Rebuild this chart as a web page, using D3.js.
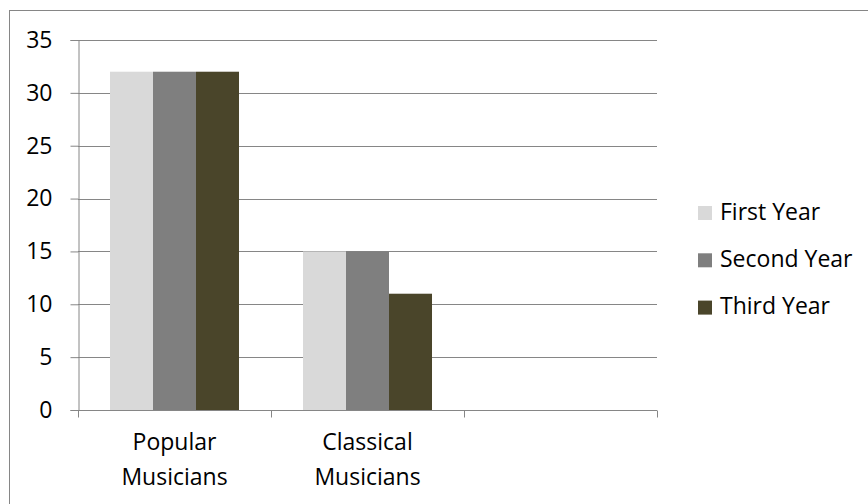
<!DOCTYPE html>
<html>
<head>
<meta charset="utf-8">
<script src="https://cdn.jsdelivr.net/npm/d3@7"></script>
<style>
  html, body { margin: 0; padding: 0; background: #fff; }
  svg { display: block; }
  text { font-family: "Open Sans", Lato, sans-serif; fill: #000; }
</style>
</head>
<body>
<svg id="chart" width="868" height="504"></svg>
<script>
// Musicians by year of study
const categories = ["Popular Musicians", "Classical Musicians", ""];
const seriesNames = ["First Year", "Second Year", "Third Year"];
const firstYear = [32, 15, null];
const secondYear = [32, 15, null];
const thirdYear = [32, 11, null];
const yTicks = [0, 5, 10, 15, 20, 25, 30, 35];
const seriesColors = ["#d9d9d9", "#7f7f7f", "#4a452a"];

const seriesValues = [firstYear, secondYear, thirdYear];

const svg = d3.select("#chart");
const W = 868, H = 504;
const plot = { left: 78, right: 657, top: 40, bottom: 410 };
const lineColor = "#868686";
const fontSize = 23;
const fontFamily = "'Open Sans', Lato, sans-serif";

// outer chart frame (extends past the right and bottom edges)
svg.append("rect")
  .attr("x", 9.5).attr("y", 10.5)
  .attr("width", W + 20).attr("height", H + 20)
  .attr("fill", "#fff")
  .attr("stroke", lineColor).attr("stroke-width", 1);

const x0 = d3.scaleBand()
  .domain(categories)
  .range([plot.left, plot.right])
  .paddingInner(0).paddingOuter(0);

const x1 = d3.scaleBand()
  .domain(seriesNames)
  .range([0, x0.bandwidth()])
  .paddingInner(0).paddingOuter(0.744);

const y = d3.scaleLinear()
  .domain([0, 35])
  .range([plot.bottom, plot.top]);

const crisp = v => Math.round(v) + 0.5;

// horizontal gridlines
svg.append("g")
  .selectAll("line")
  .data(yTicks.filter(t => t > 0))
  .join("line")
  .attr("x1", plot.left).attr("x2", plot.right)
  .attr("y1", d => crisp(y(d))).attr("y2", d => crisp(y(d)))
  .attr("stroke", lineColor).attr("stroke-width", 1);

// bars
const rows = categories.map((c, i) => ({
  category: c,
  values: seriesNames.map((s, j) => ({ series: s, value: seriesValues[j][i], color: seriesColors[j] }))
}));

svg.append("g")
  .selectAll("g")
  .data(rows)
  .join("g")
  .attr("transform", d => `translate(${x0(d.category)},0)`)
  .selectAll("rect")
  .data(d => d.values.filter(v => v.value != null))
  .join("rect")
  .attr("x", d => x1(d.series))
  .attr("width", x1.bandwidth())
  .attr("y", d => y(d.value))
  .attr("height", d => y(0) - y(d.value))
  .attr("fill", d => d.color);

// value axis
const yAxis = d3.axisLeft(y)
  .tickValues(yTicks)
  .tickSize(8)
  .tickPadding(18)
  .tickFormat(d3.format("d"));

const gy = svg.append("g")
  .attr("transform", `translate(${plot.left + 0.5},0)`)
  .call(yAxis);
gy.select(".domain").attr("stroke", lineColor);
gy.selectAll(".tick line").attr("stroke", lineColor);
gy.selectAll(".tick text")
  .attr("font-size", fontSize)
  .attr("font-family", fontFamily)
  .attr("fill", "#000");

// category axis
const catTicks = categories.map(c => x0(c)).concat([plot.right]);
const gx = svg.append("g");
gx.append("line")
  .attr("x1", plot.left).attr("x2", plot.right)
  .attr("y1", crisp(plot.bottom)).attr("y2", crisp(plot.bottom))
  .attr("stroke", lineColor);
gx.selectAll("line.tick")
  .data(catTicks)
  .join("line")
  .attr("class", "tick")
  .attr("x1", d => crisp(d)).attr("x2", d => crisp(d))
  .attr("y1", crisp(plot.bottom)).attr("y2", crisp(plot.bottom) + 7)
  .attr("stroke", lineColor);

gx.selectAll("text.cat")
  .data(categories.filter(c => c))
  .join("text")
  .attr("class", "cat")
  .attr("text-anchor", "middle")
  .attr("font-size", fontSize)
  .attr("x", d => x0(d) + x0.bandwidth() / 2)
  .attr("y", 450)
  .selectAll("tspan")
  .data(d => d.split(" "))
  .join("tspan")
  .attr("x", function() { return d3.select(this.parentNode).attr("x"); })
  .attr("dy", (d, i) => i === 0 ? 0 : 35)
  .text(d => d);

// legend
const legend = svg.append("g")
  .selectAll("g")
  .data(seriesNames)
  .join("g")
  .attr("transform", (d, i) => `translate(698,${206 + i * 47.3})`);

legend.append("rect")
  .attr("width", 14).attr("height", 14)
  .attr("fill", (d, i) => seriesColors[i]);

legend.append("text")
  .attr("x", 22)
  .attr("y", 13.5)
  .attr("font-size", fontSize)
  .text(d => d);
</script>
</body>
</html>
